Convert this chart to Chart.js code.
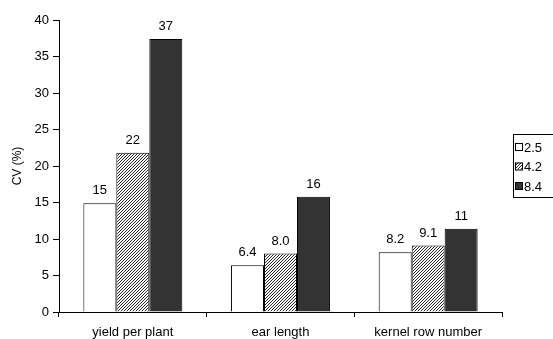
<!DOCTYPE html>
<html>
<head>
<meta charset="utf-8">
<script src="https://cdn.jsdelivr.net/npm/chart.js@4/dist/chart.umd.min.js"></script>
<style>
  html, body { margin: 0; padding: 0; background: #fff; }
  #wrap { width: 553px; height: 339px; }
</style>
</head>
<body>
<div id="wrap"><canvas id="chart" width="553" height="339"></canvas></div>
<script>
const categories = ['yield per plant', 'ear length', 'kernel row number'];
const seriesNames = ['2.5', '4.2', '8.4'];
const values25 = [14.9, 6.4, 8.2];
const values42 = [21.8, 8.0, 9.1];
const values84 = [37.4, 15.8, 11.4];
const yTicks = [0, 5, 10, 15, 20, 25, 30, 35, 40];

const FONT = 'Liberation Sans, Arial, sans-serif';

// fine "/" hatch, 3px tile, drawn pixel by pixel so it stays crisp
function hatch() {
  const c = document.createElement('canvas');
  c.width = 3; c.height = 3;
  const g = c.getContext('2d');
  g.fillStyle = '#fff';
  g.fillRect(0, 0, 3, 3);
  g.fillStyle = '#222';
  for (let x = 0; x < 3; x++) g.fillRect(x, 2 - x, 1, 1);
  return g.createPattern(c, 'repeat');
}

const fills = ['#ffffff', hatch(), '#333333'];

function fmt(v) {
  return v >= 10 ? Math.round(v).toString() : v.toFixed(1);
}

const labelPlugin = {
  id: 'labels',
  afterDatasetsDraw(chart) {
    const ctx = chart.ctx;
    ctx.save();
    ctx.font = '13px ' + FONT;
    ctx.fillStyle = '#000';
    ctx.textAlign = 'center';
    ctx.textBaseline = 'alphabetic';
    chart.data.datasets.forEach((ds, i) => {
      chart.getDatasetMeta(i).data.forEach((bar, j) => {
        ctx.fillText(fmt(ds.data[j]), bar.x, bar.y - 9);
      });
    });

    // legend box (right edge runs off the canvas like the original)
    const lx = 513, ly = 134, lw = 45, lh = 63;
    ctx.strokeStyle = '#000';
    ctx.lineWidth = 1;
    ctx.strokeRect(lx + 0.5, ly + 0.5, lw, lh);
    ctx.textAlign = 'left';
    ctx.textBaseline = 'middle';
    chart.data.datasets.forEach((ds, i) => {
      const cy = 147 + i * 19.5;
      ctx.fillStyle = ds.backgroundColor;
      ctx.fillRect(515, cy - 4, 7, 7);
      ctx.strokeRect(515.5, cy - 3.5, 7, 7);
      ctx.fillStyle = '#000';
      ctx.fillText(ds.label, 524, cy + 1);
    });
    ctx.restore();
  }
};

new Chart(document.getElementById('chart'), {
  type: 'bar',
  data: {
    labels: categories,
    datasets: [values25, values42, values84].map((d, i) => ({
      label: seriesNames[i],
      data: d,
      backgroundColor: fills[i],
      borderColor: '#000',
      borderWidth: 1,
      categoryPercentage: 0.67,
      barPercentage: 1.0
    }))
  },
  options: {
    responsive: false,
    animation: false,
    events: [],
    layout: { padding: { top: 20, right: 51, left: 0, bottom: 0 } },
    plugins: {
      legend: { display: false },
      tooltip: { enabled: false }
    },
    scales: {
      x: {
        afterFit(s) { s.height = 27; },
        grid: { drawOnChartArea: false, offset: true, tickLength: 5, color: '#000' },
        border: { color: '#000', width: 1 },
        ticks: { color: '#000', font: { family: FONT, size: 13 }, padding: 8, maxRotation: 0 }
      },
      y: {
        min: 0,
        max: 40,
        afterFit(s) { s.width = 59; },
        afterBuildTicks(s) { s.ticks = yTicks.map(v => ({ value: v })); },
        grid: { drawOnChartArea: false, tickLength: 6, color: '#000' },
        border: { color: '#000', width: 1 },
        ticks: { color: '#000', font: { family: FONT, size: 13 }, padding: 4 },
        title: {
          display: true,
          text: 'CV (%)',
          color: '#000',
          font: { family: FONT, size: 12 },
          padding: { top: 10, bottom: 0 }
        }
      }
    }
  },
  plugins: [labelPlugin]
});
</script>
</body>
</html>
